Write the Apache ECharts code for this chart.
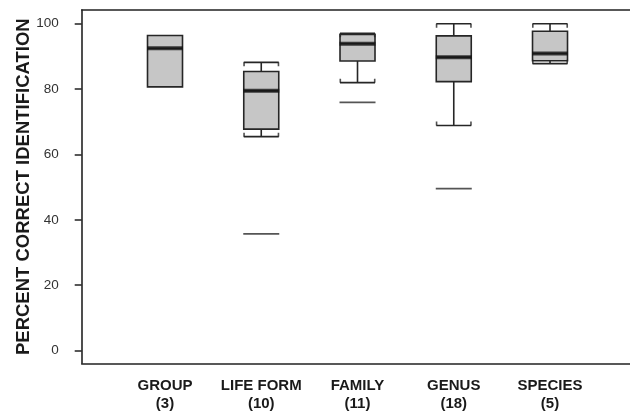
<!DOCTYPE html>
<html>
<head>
<meta charset="utf-8">
<script src="https://cdn.jsdelivr.net/npm/echarts@6/dist/echarts.min.js"></script>
<style>
  html, body { margin: 0; padding: 0; background: #fff; }
  #chart { width: 630px; height: 412px; }
</style>
</head>
<body>
<div id="chart"></div>
<script>
// Taxonomic levels and their sample counts
const categories = ['GROUP', 'LIFE FORM', 'FAMILY', 'GENUS', 'SPECIES'];
const counts = ['(3)', '(10)', '(11)', '(18)', '(5)'];

// Box statistics per level: [min, Q1, median, Q3, max]
const boxStats = [
  [80.6, 80.6, 92.4, 96.3, 96.3],
  [65.4, 67.7, 79.4, 85.3, 88.1],
  [81.9, 88.5, 93.8, 96.6, 97.0],
  [68.8, 82.2, 89.7, 96.2, 99.9],
  [87.7, 88.6, 90.8, 97.6, 99.9]
];

// Outliers: [level index, value]
const outliers = [
  [1, 35.7],
  [2, 75.9],
  [3, 49.5]
];

const yTicks = [0, 20, 40, 60, 80, 100];
const xTicks = [0, 1, 2, 3, 4];

const FONT = '"Liberation Sans", Arial, Helvetica, sans-serif';
const INK = '#222';
const BOX_W = 35;

const chart = echarts.init(document.getElementById('chart'), null, { renderer: 'canvas' });

const boxData = boxStats.map((s, i) => [i].concat(s));
const medianData = boxStats.map((s, i) => [i, s[2]]);
// whisker caps get short end serifs pointing back toward the box
const upperCaps = boxStats.map((s, i) => [i, s[4], s[3]]).filter(d => d[1] > d[2]).map(d => [d[0], d[1]]);
const lowerCaps = boxStats.map((s, i) => [i, s[0], s[1]]).filter(d => d[1] < d[2]).map(d => [d[0], d[1]]);
const serifPath = 'path://M0,0H1.6V4H0Z M34.4,0H36V4H34.4Z';

const option = {
  backgroundColor: '#fff',
  animation: false,
  grid: { left: 81.7, right: 0, top: 10, bottom: 48.7, containLabel: false, outerBoundsMode: 'none' },
  xAxis: [{
    type: 'value',
    min: -0.8655,
    max: 4.831,
    axisLine: { show: true, onZero: false, lineStyle: { color: INK, width: 1.6 } },
    axisTick: { show: false },
    splitLine: { show: false },
    axisLabel: {
      customValues: xTicks,
      margin: 14,
      fontFamily: FONT,
      fontSize: 15,
      fontWeight: 'bold',
      color: '#1a1a1a',
      lineHeight: 18,
      formatter: function (v) {
        const i = Math.round(v);
        return categories[i] + '\n' + counts[i];
      }
    }
  }, {
    type: 'value',
    position: 'top',
    min: -0.8655,
    max: 4.831,
    axisLine: { show: true, onZero: false, lineStyle: { color: INK, width: 1.6 } },
    axisTick: { show: false },
    axisLabel: { show: false },
    splitLine: { show: false }
  }],
  yAxis: {
    type: 'value',
    min: -3.85,
    max: 104.1,
    name: 'PERCENT CORRECT IDENTIFICATION',
    nameLocation: 'middle',
    nameRotate: 90,
    nameGap: 48,
    nameMoveOverlap: false,
    nameTextStyle: { fontFamily: FONT, fontSize: 18.5, fontWeight: 'bold', color: '#1a1a1a' },
    axisLine: { show: true, onZero: false, lineStyle: { color: INK, width: 1.6 } },
    axisTick: { show: true, customValues: yTicks, length: 7, lineStyle: { color: INK, width: 1.5 } },
    splitLine: { show: false },
    axisLabel: {
      customValues: yTicks,
      margin: 23,
      fontFamily: FONT,
      fontSize: 13.5,
      color: '#333'
    }
  },
  series: [{
    type: 'boxplot',
    xAxisIndex: 0,
    data: boxData,
    boxWidth: [BOX_W, BOX_W],
    itemStyle: { color: '#c6c6c6', borderColor: '#262626', borderWidth: 1.6 },
    emphasis: { disabled: true }
  }, {
    type: 'scatter',
    xAxisIndex: 0,
    data: medianData,
    symbol: 'rect',
    symbolSize: [36, 4],
    itemStyle: { color: '#151515' },
    z: 5
  }, {
    type: 'scatter',
    xAxisIndex: 0,
    data: upperCaps,
    symbol: serifPath,
    symbolKeepAspect: false,
    symbolSize: [BOX_W + 1, 4],
    symbolOffset: [0, 2],
    itemStyle: { color: '#262626' },
    z: 4
  }, {
    type: 'scatter',
    xAxisIndex: 0,
    data: lowerCaps,
    symbol: serifPath,
    symbolKeepAspect: false,
    symbolSize: [BOX_W + 1, 4],
    symbolOffset: [0, -2],
    itemStyle: { color: '#262626' },
    z: 4
  }, {
    type: 'scatter',
    xAxisIndex: 0,
    data: outliers,
    symbol: 'rect',
    symbolSize: [36, 1.8],
    itemStyle: { color: '#2a2a2a' },
    z: 5
  }]
};

chart.setOption(option);
</script>
</body>
</html>
